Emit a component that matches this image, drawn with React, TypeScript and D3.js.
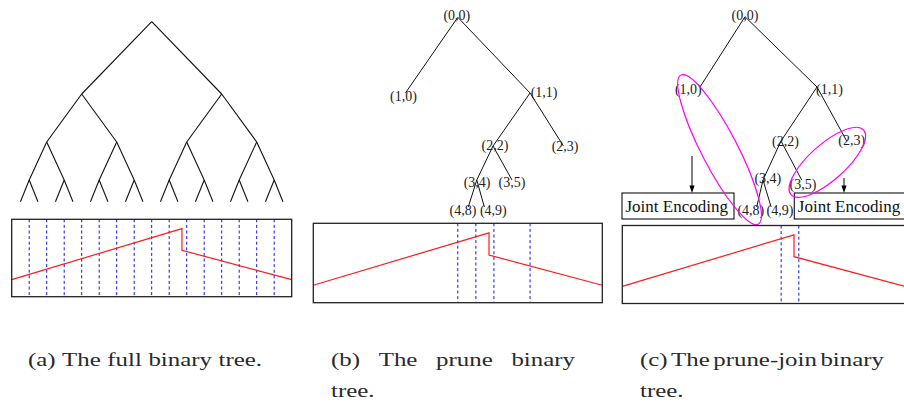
import React, { useEffect, useRef } from "react";
import * as d3 from "d3";

const W = 904;
const H = 403;

// red signal across each box: t = position (0..1), v = level (0 bottom .. 1 top)
const signalT = [0, 0.608, 0.608, 1];
const signalV = [0.22, 0.88, 0.6, 0.22];

// partition boundaries (in 1/16 of the box) drawn as dashed blue lines
const cutsFull = [1, 2, 3, 4, 5, 6, 7, 8, 9, 10, 11, 12, 13, 14, 15];
const cutsPrune = [8, 9, 10, 12];
const cutsJoin = [9, 10];

// full binary tree depth
const fullDepth = 4;

// pruned tree (b) and prune-join tree (c)
const nodeLabels = ["(0,0)", "(1,0)", "(1,1)", "(2,2)", "(2,3)", "(3,4)", "(3,5)", "(4,8)", "(4,9)"];
const nodeDepth = [0, 1, 1, 2, 2, 3, 3, 4, 4];
const nodeParent = [-1, 0, 0, 2, 2, 3, 3, 5, 5];
const prunePos = [8, 5.1, 12, 9.95, 13.85, 9.05, 11, 8.58, 9.47];
const joinPos = [8, 5.5, 12, 10, 13.65, 9, 11.15, 8.65, 9.45];

// joined node pairs in (c)
const jointPairs = [
  ["(1,0)", "(4,8)"],
  ["(2,3)", "(3,5)"],
];
const jointText = "Joint Encoding";

const captionA = ["(a)", "The", "full", "binary", "tree."];
const captionB = ["(b)", "The", "prune", "binary"];
const captionC = ["(c)", "The", "prune-join", "binary"];
const captionTail = ["tree."];

// ---- layout ----
const boxA = { x0: 11.7, x1: 291.7, y0: 219.3, y1: 296.7 };
const boxB = { x0: 313.3, x1: 602.3, y0: 223.3, y1: 302.7 };
const boxC = { x0: 622.3, x1: 904.7, y0: 225.5, y1: 303.5 };

const depthA = [21.7, 94, 142, 180, 201.7];
const depthB = [17.3, 93, 146, 180, 207];
const depthC = [16.7, 87, 141, 180, 207];
const treeRangeC: [number, number] = [601, 889];

// label offsets from the node point
const nudgeB = [[-1, -2.3], [-2, 3.7], [14, -0.7], [2, -0.3], [1.6, 0], [0.3, 2.7], [0, 2.7], [-5.3, 3.7], [9, 3.7]];
const nudgeC = [[0, -1.7], [-11.7, 2.3], [12.5, 2.3], [4.5, 0.7], [5, -0.3], [4.8, -1.7], [1.3, 4], [-5.9, 3], [8.9, 3]];

const serif = "Liberation Serif, DejaVu Serif, serif";
const capStretch = 1.31; // caption face is wider than Times
const capSpace = 6.5;

type Box = { x0: number; x1: number; y0: number; y1: number };

function SignalBox({ box, cuts }: { box: Box; cuts: number[] }) {
  const xs = d3.scaleLinear().domain([0, 16]).range([box.x0, box.x1]);
  const ts = d3.scaleLinear().domain([0, 1]).range([box.x0, box.x1]);
  const vs = d3.scaleLinear().domain([0, 1]).range([box.y1, box.y0]);
  const line = d3
    .line<number>()
    .x((_, i) => ts(signalT[i]))
    .y((d) => vs(d));
  return (
    <g>
      {cuts.map((c) => (
        <line
          key={c}
          x1={xs(c)}
          x2={xs(c)}
          y1={box.y0}
          y2={box.y1}
          stroke="#1414e0"
          strokeWidth={1}
          strokeDasharray="3 2.6"
        />
      ))}
      <path d={line(signalV) || ""} fill="none" stroke="#ff1a1a" strokeWidth={1.2} />
      <rect
        x={box.x0}
        y={box.y0}
        width={box.x1 - box.x0}
        height={box.y1 - box.y0}
        fill="none"
        stroke="#222"
        strokeWidth={1.3}
      />
    </g>
  );
}

function FullTree() {
  const xs = d3.scaleLinear().domain([0, 16]).range([boxA.x0, boxA.x1]);
  const ys = d3.scaleLinear().domain(d3.range(depthA.length)).range(depthA);
  const pos = (d: number, i: number) => [xs(((i + 0.5) * 16) / 2 ** d), ys(d)];
  const edges: number[][] = [];
  for (let d = 0; d < fullDepth; d++) {
    for (let i = 0; i < 2 ** d; i++) {
      const [px, py] = pos(d, i);
      for (const c of [2 * i, 2 * i + 1]) {
        const [cx, cy] = pos(d + 1, c);
        edges.push([px, py, cx, cy]);
      }
    }
  }
  return (
    <g stroke="#111" strokeWidth={1.1}>
      {edges.map((e, k) => (
        <line key={k} x1={e[0]} y1={e[1]} x2={e[2]} y2={e[3]} />
      ))}
    </g>
  );
}

function labelCenters(pos: number[], xs: (v: number) => number, ys: (v: number) => number, nudge: number[][]) {
  return nodeLabels.map((_, i) => [xs(pos[i]) + nudge[i][0], ys(nodeDepth[i]) + nudge[i][1]]);
}

function LabelTree({
  pos,
  xs,
  ys,
  nudge,
}: {
  pos: number[];
  xs: (v: number) => number;
  ys: (v: number) => number;
  nudge: number[][];
}) {
  const centers = labelCenters(pos, xs, ys, nudge);
  return (
    <g>
      <g stroke="#111" strokeWidth={1}>
        {nodeParent.map((p, i) =>
          p < 0 ? null : (
            <line key={i} x1={xs(pos[p])} y1={ys(nodeDepth[p])} x2={xs(pos[i])} y2={ys(nodeDepth[i])} />
          )
        )}
      </g>
      {nodeLabels.map((l, i) => (
        <text
          key={l}
          x={centers[i][0]}
          y={centers[i][1]}
          textAnchor="middle"
          dominantBaseline="central"
          style={{ fontFamily: serif, fontSize: 14 }}
          fill="#222"
        >
          {l}
        </text>
      ))}
    </g>
  );
}

function CaptionRow({ words, x0, x1, y }: { words: string[]; x0: number; x1?: number; y: number }) {
  return (
    <g className="caprow" data-x0={x0} data-x1={x1 ?? ""}>
      {words.map((w, i) => (
        <text key={i} x={x0} y={y}>
          {w}
        </text>
      ))}
    </g>
  );
}

export default function App() {
  const capRef = useRef<SVGGElement>(null);

  useEffect(() => {
    d3.select(capRef.current)
      .selectAll<SVGGElement, unknown>("g.caprow")
      .each(function () {
        const row = d3.select(this);
        const x0 = +row.attr("data-x0");
        const x1s = row.attr("data-x1");
        const words = row.selectAll<SVGTextElement, unknown>("text").nodes();
        const widths = words.map((w) => w.getComputedTextLength() * capStretch);
        words.forEach((w, i) => {
          w.setAttribute("textLength", String(widths[i]));
          w.setAttribute("lengthAdjust", "spacingAndGlyphs");
        });
        const gap =
          x1s && words.length > 1 ? (+x1s - x0 - d3.sum(widths)) / (words.length - 1) : capSpace;
        let x = x0;
        words.forEach((w, i) => {
          w.setAttribute("x", String(x));
          x += widths[i] + gap;
        });
      });
  }, []);

  const xB = d3.scaleLinear().domain([0, 16]).range([boxB.x0, boxB.x1]);
  const yB = d3.scaleLinear().domain(d3.range(depthB.length)).range(depthB);
  const xC = d3.scaleLinear().domain([0, 16]).range(treeRangeC);
  const yC = d3.scaleLinear().domain(d3.range(depthC.length)).range(depthC);

  const centersC = labelCenters(joinPos, xC, yC, nudgeC);
  const centerOf = (l: string) => centersC[nodeLabels.indexOf(l)];
  const ellipses = jointPairs.map(([a, b]) => {
    const [ax, ay] = centerOf(a);
    const [bx, by] = centerOf(b);
    const half = Math.hypot(bx - ax, by - ay) / 2;
    return {
      cx: (ax + bx) / 2,
      cy: (ay + by) / 2,
      rx: half + 16,
      ry: 18,
      angle: (Math.atan2(by - ay, bx - ax) * 180) / Math.PI,
    };
  });

  const jointBoxes = [
    { x: 622, w: 112, arrowX: 692, arrowY0: 156 },
    { x: 794.3, w: 116, arrowX: 844, arrowY0: 178 },
  ];
  const jbTop = 193;
  const jbBot = 219;

  return (
    <svg
      width={W}
      height={H}
      viewBox={`0 0 ${W} ${H}`}
      style={{ position: "absolute", left: 0, top: 0, background: "#fff" }}
    >
      <rect width={W} height={H} fill="#fff" />

      {/* (a) */}
      <FullTree />
      <SignalBox box={boxA} cuts={cutsFull} />

      {/* (b) */}
      <LabelTree pos={prunePos} xs={xB} ys={yB} nudge={nudgeB} />
      <SignalBox box={boxB} cuts={cutsPrune} />

      {/* (c) */}
      <LabelTree pos={joinPos} xs={xC} ys={yC} nudge={nudgeC} />
      {jointBoxes.map((b, i) => (
        <g key={i}>
          <line x1={b.arrowX} x2={b.arrowX} y1={b.arrowY0} y2={jbTop - 6} stroke="#000" strokeWidth={1} />
          <path
            d={`M${b.arrowX - 2.6},${jbTop - 7.5} L${b.arrowX + 2.6},${jbTop - 7.5} L${b.arrowX},${jbTop} Z`}
            fill="#000"
          />
          <rect x={b.x} y={jbTop} width={b.w} height={jbBot - jbTop} fill="#fff" stroke="#111" strokeWidth={1.1} />
          <text x={b.x + 3.5} y={jbBot - 7.5} style={{ fontFamily: serif, fontSize: 17 }} fill="#111">
            {jointText}
          </text>
        </g>
      ))}
      {ellipses.map((e, i) => (
        <ellipse
          key={i}
          cx={e.cx}
          cy={e.cy}
          rx={e.rx}
          ry={e.ry}
          transform={`rotate(${e.angle} ${e.cx} ${e.cy})`}
          fill="none"
          stroke="#ff00ff"
          strokeWidth={1.2}
        />
      ))}
      <SignalBox box={boxC} cuts={cutsJoin} />

      {/* captions */}
      <g ref={capRef} style={{ fontFamily: serif, fontSize: 19 }} fill="#2a2a2a">
        <CaptionRow words={captionA} x0={28} y={366} />
        <CaptionRow words={captionB} x0={331} x1={575} y={366} />
        <CaptionRow words={captionTail} x0={331} y={397} />
        <CaptionRow words={captionC} x0={640} x1={884} y={366} />
        <CaptionRow words={captionTail} x0={640} y={397} />
      </g>
    </svg>
  );
}
